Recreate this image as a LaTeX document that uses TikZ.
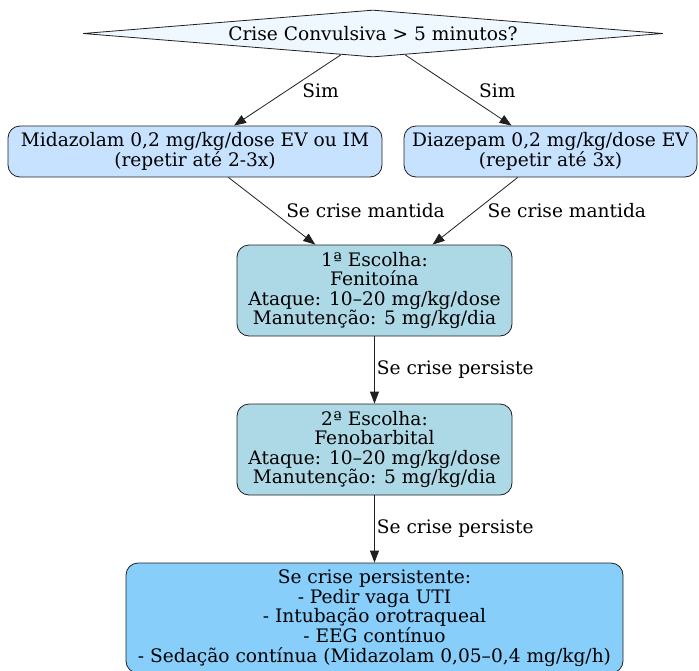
\documentclass[tikz,border=0pt]{standalone}
\usepackage{fontspec}
\setmainfont{DejaVu Serif}
\usetikzlibrary{shapes.geometric,arrows.meta}
\definecolor{decisionfill}{HTML}{F0F8FF}
\definecolor{firstfill}{HTML}{C6E2FF}
\definecolor{drugfill}{HTML}{ADD8E6}
\definecolor{icufill}{HTML}{87CEFA}
\definecolor{inkline}{HTML}{1F1F1F}
\tikzset{
  every node/.style={font=\fontsize{18.6}{19.6}\selectfont},
  box/.style={draw=inkline, rounded corners=12pt, align=center, inner sep=0pt, line width=0.8pt},
  decision/.style={draw=inkline, diamond, fill=decisionfill, inner sep=0pt, shape aspect=12, line width=0.8pt},
  flow/.style={draw=inkline, line width=0.8pt, -{Triangle[length=12pt,width=9pt]}},
  lbl/.style={inner sep=0pt, anchor=west}
}
\begin{document}
\begin{tikzpicture}[x=1pt,y=-1pt]
  \clip (0,0) rectangle (699,670);
  % decision
  \node[decision, minimum width=580pt, minimum height=47pt] (dia) at (373,33.5) {Crise Convulsiva > 5 minutos?};
  % benzodiazepines
  \node[box, fill=firstfill, minimum width=374pt, minimum height=51pt] (mid) at (195,151.5)
    {Midazolam 0,2 mg/kg/dose EV ou IM\\(repetir até 2-3x)};
  \node[box, fill=firstfill, minimum width=293pt, minimum height=51pt] (dzp) at (550.5,151.5)
    {Diazepam 0,2 mg/kg/dose EV\\(repetir até 3x)};
  % second line drugs
  \node[box, fill=drugfill, minimum width=275pt, minimum height=91pt] (e1) at (374.5,290.5)
    {1ª Escolha:\\Fenitoína\\Ataque: 10–20 mg/kg/dose\\Manutenção: 5 mg/kg/dia};
  \node[box, fill=drugfill, minimum width=275pt, minimum height=91pt] (e2) at (374.5,449.5)
    {2ª Escolha:\\Fenobarbital\\Ataque: 10–20 mg/kg/dose\\Manutenção: 5 mg/kg/dia};
  % refractory status
  \node[box, fill=icufill, minimum width=497pt, minimum height=110pt] (uti) at (374.5,618)
    {Se crise persistente:\\- Pedir vaga UTI\\- Intubação orotraqueal\\- EEG contínuo\\- Sedação contínua (Midazolam 0,05–0,4 mg/kg/h)};
  % connectors
  \draw[flow] (dia) -- node[lbl, pos=0.514, xshift=16pt] {Sim} (mid);
  \draw[flow] (dia) -- node[lbl, pos=0.514, xshift=19pt] {Sim} (dzp);
  \draw[flow] (mid) -- node[lbl, pos=0.5, xshift=14pt] {Se crise mantida} (e1);
  \draw[flow] (dzp) -- node[lbl, pos=0.5, xshift=12pt] {Se crise mantida} (e1);
  \draw[flow] (e1) -- node[lbl, pos=0.5, xshift=2pt] {Se crise persiste} (e2);
  \draw[flow] (e2) -- node[lbl, pos=0.5, xshift=2pt] {Se crise persiste} (uti);
\end{tikzpicture}
\end{document}
